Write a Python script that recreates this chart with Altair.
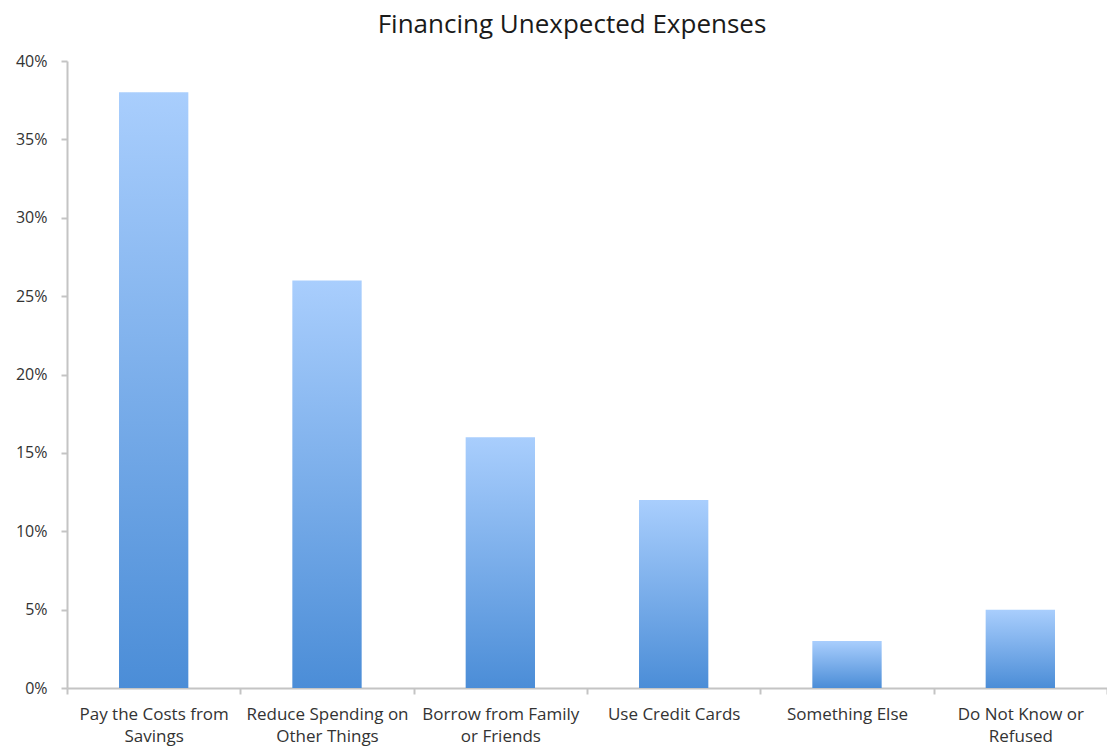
import altair as alt
import pandas as pd

categories = [
    "Pay the Costs from|Savings",
    "Reduce Spending on|Other Things",
    "Borrow from Family|or Friends",
    "Use Credit Cards",
    "Something Else",
    "Do Not Know or|Refused",
]
values = [0.38, 0.26, 0.16, 0.12, 0.03, 0.05]
y_ticks = [0, 0.05, 0.10, 0.15, 0.20, 0.25, 0.30, 0.35, 0.40]

df = pd.DataFrame({"category": categories, "value": values})

FONT = "Open Sans"

gradient = alt.Gradient(
    gradient="linear",
    stops=[
        alt.GradientStop(color="#a9cefd", offset=0),
        alt.GradientStop(color="#4b8dd7", offset=1),
    ],
    x1=0, x2=0, y1=0, y2=1,
)

chart = (
    alt.Chart(df)
    .mark_bar(color=gradient, width=alt.RelativeBandSize(0.4))
    .encode(
        x=alt.X(
            "category:N",
            sort=None,
            title=None,
            scale=alt.Scale(paddingInner=0, paddingOuter=0),
            axis=alt.Axis(
                labelAngle=0,
                labelExpr="split(datum.label, '|')",
                labelFont=FONT,
                labelFontSize=17,
                labelColor="#333333",
                labelLineHeight=22,
                labelPadding=12,
                domainColor="#c4c4c4",
                domainWidth=2,
                tickColor="#c4c4c4",
                tickWidth=2,
                tickSize=6,
                tickBand="extent",
                labelLimit=300,
            ),
        ),
        y=alt.Y(
            "value:Q",
            title=None,
            scale=alt.Scale(domain=[0, 0.40], nice=False),
            axis=alt.Axis(
                values=y_ticks,
                format=".0%",
                grid=False,
                labelFont=FONT,
                labelFontSize=16,
                labelColor="#333333",
                labelPadding=14,
                domainColor="#c4c4c4",
                domainWidth=2,
                tickColor="#c4c4c4",
                tickWidth=2,
                tickSize=6,
            ),
        ),
    )
    .properties(
        width=1040,
        height=627,
        view=alt.ViewBackground(stroke="transparent", strokeWidth=0),
        title=alt.TitleParams(
            "Financing Unexpected Expenses",
            font=FONT,
            fontSize=26,
            fontWeight="normal",
            color="#1a1a1a",
            anchor="middle",
            dx=-15,
            offset=15,
        ),
        autosize=alt.AutoSizeParams(type="none"),
        padding={"left": 59, "top": 53, "right": 0, "bottom": 61},
    )
    .configure(background="white")
    .configure_view(strokeWidth=0, stroke="transparent")
)

chart.save("out.html", embed_options={"renderer": "svg", "actions": False})
